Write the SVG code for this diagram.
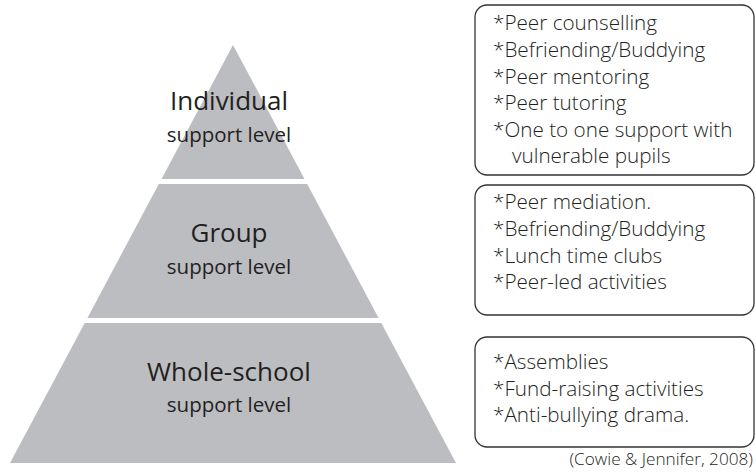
<svg xmlns="http://www.w3.org/2000/svg" width="756" height="473" viewBox="0 0 756 473">
<style>
.lvl{fill:#bcbdc0;}
.title{font-family:"Open Sans","Liberation Sans",sans-serif;font-size:26px;font-weight:500;fill:#231f20;text-anchor:middle;}
.sub{font-family:"Open Sans","Liberation Sans",sans-serif;font-size:20.5px;fill:#231f20;text-anchor:middle;}
.box{fill:#ffffff;stroke:#333333;stroke-width:1.3;}
.item{font-family:"Open Sans","Liberation Sans",sans-serif;font-size:20.7px;font-weight:300;fill:#231f20;}
.cite{font-family:"Open Sans","Liberation Sans",sans-serif;font-size:17.2px;font-weight:300;fill:#231f20;text-anchor:end;}
</style>
<rect width="756" height="473" fill="#ffffff"/>
<g id="individual-level">
<polygon class="lvl" points="233,45 304.5,179 161.5,179"/>
<text class="title" x="229" y="110">Individual</text>
<text class="sub" x="229" y="142">support level</text>
</g>
<g id="group-level">
<polygon class="lvl" points="158.8,184 307.2,184 378.6,318 87.4,318"/>
<text class="title" x="229" y="242">Group</text>
<text class="sub" x="229" y="274">support level</text>
</g>
<g id="whole-school-level">
<polygon class="lvl" points="84.7,323 381.3,323 456,463 10,463"/>
<text class="title" x="229" y="381">Whole-school</text>
<text class="sub" x="229" y="412">support level</text>
</g>
<g id="individual-activities">
<rect class="box" x="475" y="5" width="279" height="170" rx="12" ry="12"/>
<text class="item" x="493" y="30">*Peer counselling</text>
<text class="item" x="493" y="57">*Befriending/Buddying</text>
<text class="item" x="493" y="84">*Peer mentoring</text>
<text class="item" x="493" y="110">*Peer tutoring</text>
<text class="item" x="493" y="137">*One to one support with</text>
<text class="item" x="512" y="163">vulnerable pupils</text>
</g>
<g id="group-activities">
<rect class="box" x="475" y="185" width="279" height="130" rx="12" ry="12"/>
<text class="item" x="493" y="209">*Peer mediation.</text>
<text class="item" x="493" y="236">*Befriending/Buddying</text>
<text class="item" x="493" y="263">*Lunch time clubs</text>
<text class="item" x="493" y="289">*Peer-led activities</text>
</g>
<g id="whole-school-activities">
<rect class="box" x="475" y="337" width="279" height="110" rx="12" ry="12"/>
<text class="item" x="493" y="369">*Assemblies</text>
<text class="item" x="493" y="396">*Fund-raising activities</text>
<text class="item" x="493" y="422">*Anti-bullying drama.</text>
</g>
<text class="cite" x="753" y="465">(Cowie &amp; Jennifer, 2008)</text>
</svg>
